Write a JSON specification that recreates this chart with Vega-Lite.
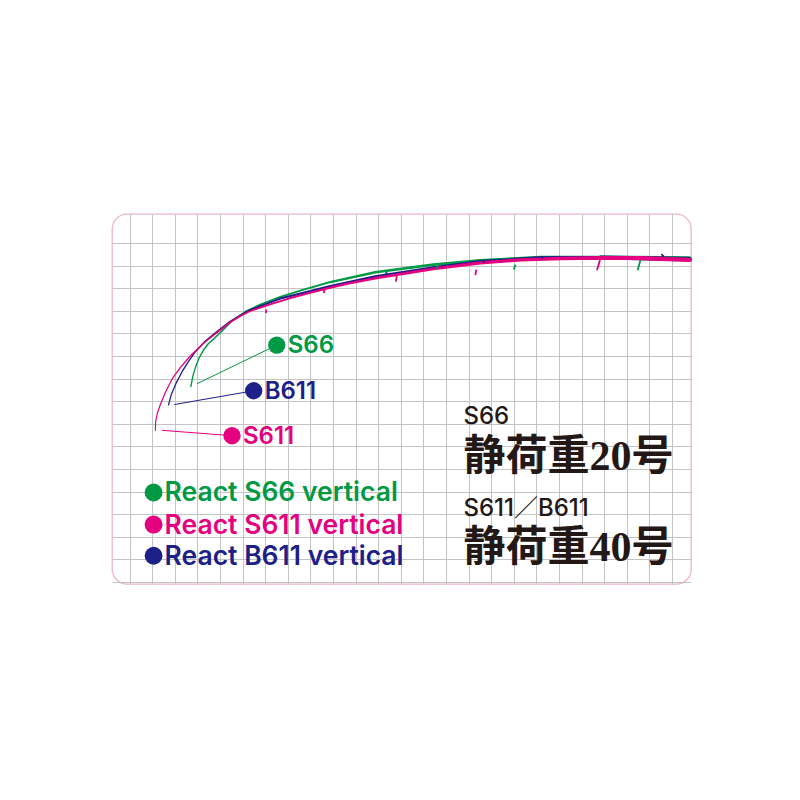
{
  "$schema": "https://vega.github.io/schema/vega-lite/v6.json",
  "width": 579,
  "height": 370,
  "autosize": {"type": "none"},
  "padding": {"left": 112, "top": 214, "right": 109, "bottom": 216},
  "background": "#ffffff",
  "config": {
    "view": {"fill": "#ffffff", "stroke": "#ecb6c2", "strokeWidth": 1.3, "cornerRadius": 15},
    "axis": {"grid": true, "gridColor": "#c4c4c4", "gridWidth": 1, "labels": false, "ticks": false, "domain": false, "title": null}
  },
  "datasets": {
    "curve": [
      {"rod": "S66", "x": 24.77, "y": 0.69},
      {"rod": "S66", "x": 20.83, "y": 0.64},
      {"rod": "S66", "x": 18.17, "y": 0.65},
      {"rod": "S66", "x": 15.52, "y": 0.78},
      {"rod": "S66", "x": 13.44, "y": 0.96},
      {"rod": "S66", "x": 10.87, "y": 1.30},
      {"rod": "S66", "x": 8.88, "y": 1.73},
      {"rod": "S66", "x": 7.55, "y": 2.11},
      {"rod": "S66", "x": 6.67, "y": 2.39},
      {"rod": "S66", "x": 5.78, "y": 2.73},
      {"rod": "S66", "x": 5.12, "y": 3.04},
      {"rod": "S66", "x": 4.54, "y": 3.44},
      {"rod": "S66", "x": 4.10, "y": 3.88},
      {"rod": "S66", "x": 3.75, "y": 4.22},
      {"rod": "S66", "x": 3.48, "y": 4.46},
      {"rod": "S66", "x": 3.26, "y": 4.75},
      {"rod": "S66", "x": 3.08, "y": 5.08},
      {"rod": "S66", "x": 2.93, "y": 5.46},
      {"rod": "S66", "x": 2.80, "y": 5.88},
      {"rod": "S66", "x": 2.71, "y": 6.35},
      {"rod": "B611", "x": 24.77, "y": 0.72},
      {"rod": "B611", "x": 20.83, "y": 0.64},
      {"rod": "B611", "x": 18.17, "y": 0.67},
      {"rod": "B611", "x": 15.52, "y": 0.83},
      {"rod": "B611", "x": 13.44, "y": 1.09},
      {"rod": "B611", "x": 10.87, "y": 1.49},
      {"rod": "B611", "x": 8.88, "y": 1.91},
      {"rod": "B611", "x": 6.67, "y": 2.46},
      {"rod": "B611", "x": 5.34, "y": 2.96},
      {"rod": "B611", "x": 4.45, "y": 3.47},
      {"rod": "B611", "x": 3.92, "y": 3.88},
      {"rod": "B611", "x": 3.35, "y": 4.34},
      {"rod": "B611", "x": 2.91, "y": 4.81},
      {"rod": "B611", "x": 2.60, "y": 5.25},
      {"rod": "B611", "x": 2.33, "y": 5.68},
      {"rod": "B611", "x": 2.07, "y": 6.18},
      {"rod": "B611", "x": 1.84, "y": 6.72},
      {"rod": "B611", "x": 1.72, "y": 7.17},
      {"rod": "S611", "x": 24.78, "y": 0.75},
      {"rod": "S611", "x": 22.60, "y": 0.67},
      {"rod": "S611", "x": 20.83, "y": 0.66},
      {"rod": "S611", "x": 19.06, "y": 0.69},
      {"rod": "S611", "x": 17.29, "y": 0.75},
      {"rod": "S611", "x": 15.52, "y": 0.88},
      {"rod": "S611", "x": 13.44, "y": 1.15},
      {"rod": "S611", "x": 11.98, "y": 1.38},
      {"rod": "S611", "x": 10.87, "y": 1.56},
      {"rod": "S611", "x": 9.76, "y": 1.78},
      {"rod": "S611", "x": 8.88, "y": 1.98},
      {"rod": "S611", "x": 7.99, "y": 2.20},
      {"rod": "S611", "x": 7.11, "y": 2.44},
      {"rod": "S611", "x": 6.22, "y": 2.72},
      {"rod": "S611", "x": 5.34, "y": 3.01},
      {"rod": "S611", "x": 4.90, "y": 3.23},
      {"rod": "S611", "x": 4.45, "y": 3.51},
      {"rod": "S611", "x": 3.93, "y": 3.91},
      {"rod": "S611", "x": 3.35, "y": 4.37},
      {"rod": "S611", "x": 2.69, "y": 4.99},
      {"rod": "S611", "x": 2.24, "y": 5.52},
      {"rod": "S611", "x": 1.89, "y": 6.00},
      {"rod": "S611", "x": 1.58, "y": 6.62},
      {"rod": "S611", "x": 1.36, "y": 7.15},
      {"rod": "S611", "x": 1.22, "y": 7.56},
      {"rod": "S611", "x": 1.15, "y": 7.92},
      {"rod": "S611", "x": 1.14, "y": 8.29}
    ],
    "guides": [
      {"rod": "S66", "x": 17.07, "y": 0.96, "x2": 17.00, "y2": 1.18},
      {"rod": "S66", "x": 22.60, "y": 0.76, "x2": 22.48, "y2": 1.21},
      {"rod": "S66", "x": 13.62, "y": 1.00, "x2": 13.59, "y2": 1.14},
      {"rod": "B611", "x": 18.25, "y": 0.58, "x2": 18.27, "y2": 0.69},
      {"rod": "B611", "x": 23.53, "y": 0.50, "x2": 23.64, "y2": 0.61},
      {"rod": "B611", "x": 15.66, "y": 0.76, "x2": 15.67, "y2": 0.88},
      {"rod": "B611", "x": 11.36, "y": 1.29, "x2": 11.36, "y2": 1.40},
      {"rod": "S611", "x": 11.82, "y": 1.45, "x2": 11.78, "y2": 1.71},
      {"rod": "S611", "x": 15.34, "y": 1.18, "x2": 15.30, "y2": 1.42},
      {"rod": "S611", "x": 20.83, "y": 0.69, "x2": 20.68, "y2": 1.21},
      {"rod": "S611", "x": 8.62, "y": 2.04, "x2": 8.59, "y2": 2.22},
      {"rod": "S611", "x": 6.05, "y": 2.95, "x2": 6.03, "y2": 3.11}
    ],
    "labels": [
      {"rod": "S66", "x": 6.51, "y": 4.52, "x2": 2.98, "y2": 6.23},
      {"rod": "B611", "x": 5.49, "y": 6.54, "x2": 1.98, "y2": 7.15},
      {"rod": "S611", "x": 4.53, "y": 8.53, "x2": 1.43, "y2": 8.29}
    ],
    "legend": [
      {"rod": "S66", "name": "React S66 vertical", "x": 1.06, "y": 11.04},
      {"rod": "S611", "name": "React S611 vertical", "x": 1.06, "y": 12.46},
      {"rod": "B611", "name": "React B611 vertical", "x": 1.06, "y": 13.84}
    ],
    "notes": [
      {"kind": "code", "text": "S66", "x": 14.77, "y": 8.01},
      {"kind": "load", "text": "静荷重20号", "x": 14.77, "y": 10.03},
      {"kind": "code", "text": "S611／B611", "x": 14.77, "y": 12.10},
      {"kind": "load", "text": "静荷重40号", "x": 14.77, "y": 14.09}
    ]
  },
  "encoding": {
    "x": {
      "field": "x", "type": "quantitative",
      "scale": {"domain": [-0.78, 24.84], "nice": false, "zero": false},
      "axis": {"values": [0, 1, 2, 3, 4, 5, 6, 7, 8, 9, 10, 11, 12, 13, 14, 15, 16, 17, 18, 19, 20, 21, 22, 23, 24]}
    },
    "y": {
      "field": "y", "type": "quantitative",
      "scale": {"domain": [-1.28, 15.09], "nice": false, "zero": false, "reverse": true},
      "axis": {"values": [0, 1, 2, 3, 4, 5, 6, 7, 8, 9, 10, 11, 12, 13, 14, 15]}
    },
    "color": {
      "field": "rod", "type": "nominal",
      "scale": {"domain": ["S66", "B611", "S611"], "range": ["#009944", "#1d2088", "#e4007f"]},
      "legend": null
    }
  },
  "layer": [
    {
      "data": {"name": "curve"},
      "mark": {"type": "trail"},
      "encoding": {
        "size": {
          "field": "x", "type": "quantitative",
          "scale": {"domain": [0, 25], "range": [1, 4.5]},
          "legend": null
        }
      }
    },
    {
      "data": {"name": "guides"},
      "mark": {"type": "rule", "strokeWidth": 1.8},
      "encoding": {
        "x2": {"field": "x2"},
        "y2": {"field": "y2"}
      }
    },
    {
      "data": {"name": "labels"},
      "mark": {"type": "rule", "strokeWidth": 1},
      "encoding": {
        "x2": {"field": "x2"},
        "y2": {"field": "y2"}
      }
    },
    {
      "data": {"name": "labels"},
      "mark": {"type": "circle", "size": 300, "opacity": 1}
    },
    {
      "data": {"name": "labels"},
      "mark": {"type": "text", "align": "left", "baseline": "middle", "dx": 11, "dy": 1, "font": "Inter", "fontSize": 24, "fontWeight": 600},
      "encoding": {
        "text": {"field": "rod"}
      }
    },
    {
      "data": {"name": "legend"},
      "mark": {"type": "circle", "size": 320, "opacity": 1}
    },
    {
      "data": {"name": "legend"},
      "mark": {"type": "text", "align": "left", "baseline": "middle", "dx": 11, "dy": 1, "font": "Inter", "fontSize": 26.5, "fontWeight": 600},
      "encoding": {
        "text": {"field": "name"}
      }
    },
    {
      "data": {"name": "notes"},
      "transform": [{"filter": "datum.kind === 'code'"}],
      "mark": {"type": "text", "align": "left", "baseline": "alphabetic", "font": "Inter, Noto Sans CJK JP", "fontSize": 24, "fontWeight": 500},
      "encoding": {
        "text": {"field": "text"},
        "color": {"value": "#231815"}
      }
    },
    {
      "data": {"name": "notes"},
      "transform": [{"filter": "datum.kind === 'load'"}],
      "mark": {"type": "text", "align": "left", "baseline": "alphabetic", "font": "Liberation Serif, Noto Sans CJK JP", "fontSize": 42, "fontWeight": "bold"},
      "encoding": {
        "text": {"field": "text"},
        "color": {"value": "#231815"}
      }
    }
  ]
}
